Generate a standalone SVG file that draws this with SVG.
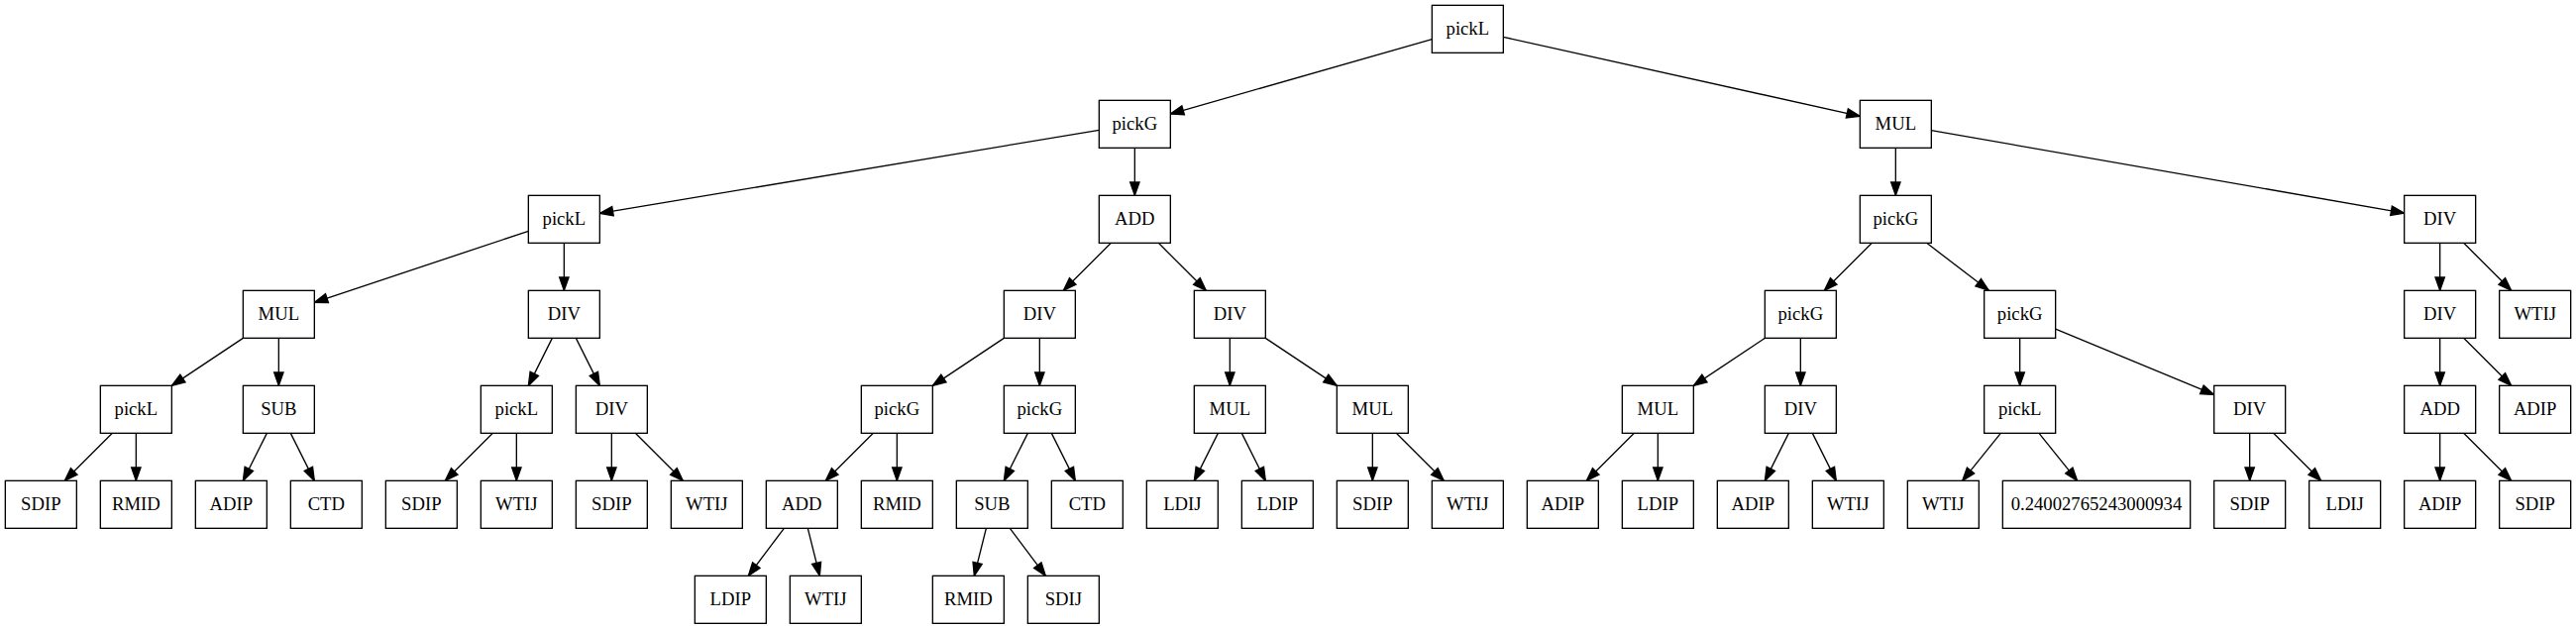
<svg xmlns="http://www.w3.org/2000/svg" width="2600" height="635" viewBox="0 0 2600 635">
<style>
.nd rect{fill:#fff;stroke:#000;stroke-width:1.33}
.nd text{font-family:"Liberation Serif","Times New Roman",serif;font-size:18.67px;text-anchor:middle;fill:#000}
#edges path{fill:none;stroke:#000;stroke-width:1.33;marker-end:url(#ah)}
</style>
<defs>
<marker id="ah" markerUnits="userSpaceOnUse" markerWidth="20" markerHeight="12" refX="13.33" refY="0" viewBox="-1 -6 16 12" orient="auto" overflow="visible">
<path d="M0,-4.67 L13.33,0 L0,4.67 Z" fill="#000" stroke="#000" stroke-width="1.33"/>
</marker>
</defs>
<rect width="2600" height="635" fill="#fff"/>
<g id="edges">
<path d="M1445.33,39.62 L1181.33,115.05"/>
<path d="M1517.33,37.33 L1877.33,117.33"/>
<path d="M1109.33,131.33 L605.33,215.33"/>
<path d="M1145.33,149.33 L1145.33,197.33"/>
<path d="M1913.33,149.33 L1913.33,197.33"/>
<path d="M1949.33,131.62 L2426.67,215.04"/>
<path d="M533.33,233.33 L317.33,305.33"/>
<path d="M569.33,245.33 L569.33,293.33"/>
<path d="M1121.33,245.33 L1073.33,293.33"/>
<path d="M1169.33,245.33 L1217.33,293.33"/>
<path d="M1889.33,245.33 L1841.33,293.33"/>
<path d="M1944.67,245.33 L2007.33,293.33"/>
<path d="M2462.67,245.33 L2462.67,293.33"/>
<path d="M2486.67,245.33 L2534.67,293.33"/>
<path d="M245.33,341.33 L173.33,389.33"/>
<path d="M281.33,341.33 L281.33,389.33"/>
<path d="M557.33,341.33 L533.33,389.33"/>
<path d="M581.33,341.33 L605.33,389.33"/>
<path d="M1013.33,341.33 L941.33,389.33"/>
<path d="M1049.33,341.33 L1049.33,389.33"/>
<path d="M1241.33,341.33 L1241.33,389.33"/>
<path d="M1277.33,341.33 L1349.33,389.33"/>
<path d="M1781.33,341.33 L1709.33,389.33"/>
<path d="M1817.33,341.33 L1817.33,389.33"/>
<path d="M2038.67,341.33 L2038.67,389.33"/>
<path d="M2074.67,332.23 L2234.67,398.43"/>
<path d="M2462.67,341.33 L2462.67,389.33"/>
<path d="M2486.67,341.33 L2534.67,389.33"/>
<path d="M113.33,437.33 L65.33,485.33"/>
<path d="M137.33,437.33 L137.33,485.33"/>
<path d="M269.33,437.33 L245.33,485.33"/>
<path d="M293.33,437.33 L317.33,485.33"/>
<path d="M497.33,437.33 L449.33,485.33"/>
<path d="M521.33,437.33 L521.33,485.33"/>
<path d="M617.33,437.33 L617.33,485.33"/>
<path d="M641.33,437.33 L689.33,485.33"/>
<path d="M881.33,437.33 L833.33,485.33"/>
<path d="M905.33,437.33 L905.33,485.33"/>
<path d="M1037.33,437.33 L1013.33,485.33"/>
<path d="M1061.33,437.33 L1085.33,485.33"/>
<path d="M1229.33,437.33 L1205.33,485.33"/>
<path d="M1253.33,437.33 L1277.33,485.33"/>
<path d="M1385.33,437.33 L1385.33,485.33"/>
<path d="M1409.33,437.33 L1457.33,485.33"/>
<path d="M1649.33,437.33 L1601.33,485.33"/>
<path d="M1673.33,437.33 L1673.33,485.33"/>
<path d="M1805.33,437.33 L1781.33,485.33"/>
<path d="M1829.33,437.33 L1853.33,485.33"/>
<path d="M2019.33,437.33 L1980.67,485.33"/>
<path d="M2058,437.33 L2096.67,485.33"/>
<path d="M2270.67,437.33 L2270.67,485.33"/>
<path d="M2294.67,437.33 L2342.67,485.33"/>
<path d="M2462.67,437.33 L2462.67,485.33"/>
<path d="M2486.67,437.33 L2534.67,485.33"/>
<path d="M791.33,533.33 L755.33,581.33"/>
<path d="M815.33,533.33 L827.33,581.33"/>
<path d="M995.33,533.33 L983.33,581.33"/>
<path d="M1019.33,533.33 L1055.33,581.33"/>
</g>
<g id="n0" class="nd"><rect x="1445.33" y="5.33" width="72" height="48"/><text x="1481.33" y="35.33">pickL</text></g>
<g id="n1" class="nd"><rect x="1109.33" y="101.33" width="72" height="48"/><text x="1145.33" y="131.33">pickG</text></g>
<g id="n2" class="nd"><rect x="1877.33" y="101.33" width="72" height="48"/><text x="1913.33" y="131.33">MUL</text></g>
<g id="n3" class="nd"><rect x="533.33" y="197.33" width="72" height="48"/><text x="569.33" y="227.33">pickL</text></g>
<g id="n4" class="nd"><rect x="1109.33" y="197.33" width="72" height="48"/><text x="1145.33" y="227.33">ADD</text></g>
<g id="n5" class="nd"><rect x="1877.33" y="197.33" width="72" height="48"/><text x="1913.33" y="227.33">pickG</text></g>
<g id="n6" class="nd"><rect x="2426.67" y="197.33" width="72" height="48"/><text x="2462.67" y="227.33">DIV</text></g>
<g id="n7" class="nd"><rect x="245.33" y="293.33" width="72" height="48"/><text x="281.33" y="323.33">MUL</text></g>
<g id="n8" class="nd"><rect x="533.33" y="293.33" width="72" height="48"/><text x="569.33" y="323.33">DIV</text></g>
<g id="n9" class="nd"><rect x="1013.33" y="293.33" width="72" height="48"/><text x="1049.33" y="323.33">DIV</text></g>
<g id="n10" class="nd"><rect x="1205.33" y="293.33" width="72" height="48"/><text x="1241.33" y="323.33">DIV</text></g>
<g id="n11" class="nd"><rect x="1781.33" y="293.33" width="72" height="48"/><text x="1817.33" y="323.33">pickG</text></g>
<g id="n12" class="nd"><rect x="2002.67" y="293.33" width="72" height="48"/><text x="2038.67" y="323.33">pickG</text></g>
<g id="n13" class="nd"><rect x="2426.67" y="293.33" width="72" height="48"/><text x="2462.67" y="323.33">DIV</text></g>
<g id="n14" class="nd"><rect x="2522.67" y="293.33" width="72" height="48"/><text x="2558.67" y="323.33">WTIJ</text></g>
<g id="n15" class="nd"><rect x="101.33" y="389.33" width="72" height="48"/><text x="137.33" y="419.33">pickL</text></g>
<g id="n16" class="nd"><rect x="245.33" y="389.33" width="72" height="48"/><text x="281.33" y="419.33">SUB</text></g>
<g id="n17" class="nd"><rect x="485.33" y="389.33" width="72" height="48"/><text x="521.33" y="419.33">pickL</text></g>
<g id="n18" class="nd"><rect x="581.33" y="389.33" width="72" height="48"/><text x="617.33" y="419.33">DIV</text></g>
<g id="n19" class="nd"><rect x="869.33" y="389.33" width="72" height="48"/><text x="905.33" y="419.33">pickG</text></g>
<g id="n20" class="nd"><rect x="1013.33" y="389.33" width="72" height="48"/><text x="1049.33" y="419.33">pickG</text></g>
<g id="n21" class="nd"><rect x="1205.33" y="389.33" width="72" height="48"/><text x="1241.33" y="419.33">MUL</text></g>
<g id="n22" class="nd"><rect x="1349.33" y="389.33" width="72" height="48"/><text x="1385.33" y="419.33">MUL</text></g>
<g id="n23" class="nd"><rect x="1637.33" y="389.33" width="72" height="48"/><text x="1673.33" y="419.33">MUL</text></g>
<g id="n24" class="nd"><rect x="1781.33" y="389.33" width="72" height="48"/><text x="1817.33" y="419.33">DIV</text></g>
<g id="n25" class="nd"><rect x="2002.67" y="389.33" width="72" height="48"/><text x="2038.67" y="419.33">pickL</text></g>
<g id="n26" class="nd"><rect x="2234.67" y="389.33" width="72" height="48"/><text x="2270.67" y="419.33">DIV</text></g>
<g id="n27" class="nd"><rect x="2426.67" y="389.33" width="72" height="48"/><text x="2462.67" y="419.33">ADD</text></g>
<g id="n28" class="nd"><rect x="2522.67" y="389.33" width="72" height="48"/><text x="2558.67" y="419.33">ADIP</text></g>
<g id="n29" class="nd"><rect x="5.33" y="485.33" width="72" height="48"/><text x="41.33" y="515.33">SDIP</text></g>
<g id="n30" class="nd"><rect x="101.33" y="485.33" width="72" height="48"/><text x="137.33" y="515.33">RMID</text></g>
<g id="n31" class="nd"><rect x="197.33" y="485.33" width="72" height="48"/><text x="233.33" y="515.33">ADIP</text></g>
<g id="n32" class="nd"><rect x="293.33" y="485.33" width="72" height="48"/><text x="329.33" y="515.33">CTD</text></g>
<g id="n33" class="nd"><rect x="389.33" y="485.33" width="72" height="48"/><text x="425.33" y="515.33">SDIP</text></g>
<g id="n34" class="nd"><rect x="485.33" y="485.33" width="72" height="48"/><text x="521.33" y="515.33">WTIJ</text></g>
<g id="n35" class="nd"><rect x="581.33" y="485.33" width="72" height="48"/><text x="617.33" y="515.33">SDIP</text></g>
<g id="n36" class="nd"><rect x="677.33" y="485.33" width="72" height="48"/><text x="713.33" y="515.33">WTIJ</text></g>
<g id="n37" class="nd"><rect x="773.33" y="485.33" width="72" height="48"/><text x="809.33" y="515.33">ADD</text></g>
<g id="n38" class="nd"><rect x="869.33" y="485.33" width="72" height="48"/><text x="905.33" y="515.33">RMID</text></g>
<g id="n39" class="nd"><rect x="965.33" y="485.33" width="72" height="48"/><text x="1001.33" y="515.33">SUB</text></g>
<g id="n40" class="nd"><rect x="1061.33" y="485.33" width="72" height="48"/><text x="1097.33" y="515.33">CTD</text></g>
<g id="n41" class="nd"><rect x="1157.33" y="485.33" width="72" height="48"/><text x="1193.33" y="515.33">LDIJ</text></g>
<g id="n42" class="nd"><rect x="1253.33" y="485.33" width="72" height="48"/><text x="1289.33" y="515.33">LDIP</text></g>
<g id="n43" class="nd"><rect x="1349.33" y="485.33" width="72" height="48"/><text x="1385.33" y="515.33">SDIP</text></g>
<g id="n44" class="nd"><rect x="1445.33" y="485.33" width="72" height="48"/><text x="1481.33" y="515.33">WTIJ</text></g>
<g id="n45" class="nd"><rect x="1541.33" y="485.33" width="72" height="48"/><text x="1577.33" y="515.33">ADIP</text></g>
<g id="n46" class="nd"><rect x="1637.33" y="485.33" width="72" height="48"/><text x="1673.33" y="515.33">LDIP</text></g>
<g id="n47" class="nd"><rect x="1733.33" y="485.33" width="72" height="48"/><text x="1769.33" y="515.33">ADIP</text></g>
<g id="n48" class="nd"><rect x="1829.33" y="485.33" width="72" height="48"/><text x="1865.33" y="515.33">WTIJ</text></g>
<g id="n49" class="nd"><rect x="1925.33" y="485.33" width="72" height="48"/><text x="1961.33" y="515.33">WTIJ</text></g>
<g id="n50" class="nd"><rect x="2021.33" y="485.33" width="189.33" height="48"/><text x="2116" y="515.33">0.24002765243000934</text></g>
<g id="n51" class="nd"><rect x="2234.67" y="485.33" width="72" height="48"/><text x="2270.67" y="515.33">SDIP</text></g>
<g id="n52" class="nd"><rect x="2330.67" y="485.33" width="72" height="48"/><text x="2366.67" y="515.33">LDIJ</text></g>
<g id="n53" class="nd"><rect x="2426.67" y="485.33" width="72" height="48"/><text x="2462.67" y="515.33">ADIP</text></g>
<g id="n54" class="nd"><rect x="2522.67" y="485.33" width="72" height="48"/><text x="2558.67" y="515.33">SDIP</text></g>
<g id="n55" class="nd"><rect x="701.33" y="581.33" width="72" height="48"/><text x="737.33" y="611.33">LDIP</text></g>
<g id="n56" class="nd"><rect x="797.33" y="581.33" width="72" height="48"/><text x="833.33" y="611.33">WTIJ</text></g>
<g id="n57" class="nd"><rect x="941.33" y="581.33" width="72" height="48"/><text x="977.33" y="611.33">RMID</text></g>
<g id="n58" class="nd"><rect x="1037.33" y="581.33" width="72" height="48"/><text x="1073.33" y="611.33">SDIJ</text></g>
</svg>
